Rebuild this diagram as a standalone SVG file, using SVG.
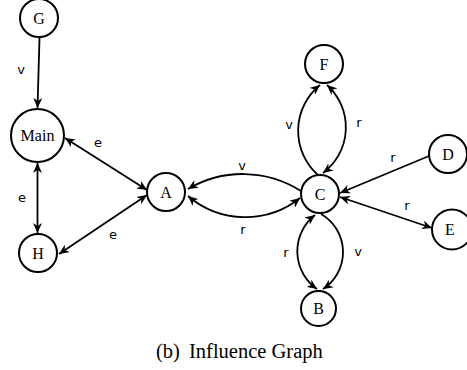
<svg xmlns="http://www.w3.org/2000/svg" width="467" height="370" viewBox="0 0 467 370">
  <style>
    .node circle { fill: #fff; stroke: #000; stroke-width: 2; }
    .node text { font-family: "Liberation Serif", "Times New Roman", serif; font-size: 16px; text-anchor: middle; fill: #000; }
    .edge { fill: none; stroke: #000; stroke-width: 1.8; }
    .lbl { font-family: "DejaVu Sans", sans-serif; font-size: 13px; text-anchor: middle; fill: #000; }
    .caption { font-family: "Liberation Serif", "Times New Roman", serif; font-size: 20.5px; fill: #000; }
  </style>
  <defs>
    <marker id="arrow" viewBox="0 0 10 9" markerUnits="userSpaceOnUse" markerWidth="10" markerHeight="9" refX="10" refY="4.5" orient="auto-start-reverse">
      <path d="M0,0 L10,4.5 L0,9 L3,4.5 z" fill="#000"/>
    </marker>
  </defs>

  <!-- connectors -->
  <g id="connectors">
    <path class="edge" d="M39.5,38 L37.5,108" marker-end="url(#arrow)"/>
    <path class="edge" d="M37.5,163 L37.5,233" marker-start="url(#arrow)" marker-end="url(#arrow)"/>
    <path class="edge" d="M65,138 L147,190" marker-start="url(#arrow)" marker-end="url(#arrow)"/>
    <path class="edge" d="M59,254 L147,195" marker-start="url(#arrow)" marker-end="url(#arrow)"/>
    <!-- C / A pair -->
    <path class="edge" d="M301,191 A108,108 0 0 0 188,189" marker-end="url(#arrow)"/>
    <path class="edge" d="M188,196 A88,88 0 0 0 300,198" marker-start="url(#arrow)" marker-end="url(#arrow)"/>
    <!-- C / F pair -->
    <path class="edge" d="M318,175 A59,59 0 0 1 320,85" marker-end="url(#arrow)"/>
    <path class="edge" d="M323,173 A57,57 0 0 0 327,85" marker-start="url(#arrow)" marker-end="url(#arrow)"/>
    <!-- D, E -->
    <path class="edge" d="M429,156 L340,193" marker-end="url(#arrow)"/>
    <path class="edge" d="M340,197 L432,228" marker-start="url(#arrow)" marker-end="url(#arrow)"/>
    <!-- C / B pair -->
    <path class="edge" d="M315,215 A46,46 0 0 0 317,289" marker-start="url(#arrow)" marker-end="url(#arrow)"/>
    <path class="edge" d="M321,214 A44,44 0 0 1 323,289" marker-end="url(#arrow)"/>
  </g>

  <g id="edge-labels">
    <text class="lbl" x="21" y="74">v</text>
    <text class="lbl" x="22" y="202">e</text>
    <text class="lbl" x="98" y="147">e</text>
    <text class="lbl" x="113" y="239">e</text>
    <text class="lbl" x="242" y="170">v</text>
    <text class="lbl" x="243" y="234">r</text>
    <text class="lbl" x="289" y="129">v</text>
    <text class="lbl" x="359" y="127">r</text>
    <text class="lbl" x="393" y="162">r</text>
    <text class="lbl" x="407" y="210">r</text>
    <text class="lbl" x="286" y="257">r</text>
    <text class="lbl" x="358" y="256">v</text>
  </g>

  <!-- nodes -->
  <g id="node-G" class="node"><circle cx="39" cy="18" r="19"/><text x="39" y="23.5">G</text></g>
  <g id="node-Main" class="node"><circle cx="37.5" cy="135.5" r="26.5"/><text x="37.5" y="141">Main</text></g>
  <g id="node-H" class="node"><circle cx="38" cy="253" r="19"/><text x="38" y="258.5">H</text></g>
  <g id="node-A" class="node"><circle cx="166" cy="192" r="19"/><text x="166" y="197.5">A</text></g>
  <g id="node-C" class="node"><circle cx="320" cy="194" r="19"/><text x="320" y="199.5">C</text></g>
  <g id="node-F" class="node"><circle cx="324" cy="64" r="19"/><text x="324" y="69.5">F</text></g>
  <g id="node-D" class="node"><circle cx="448" cy="154" r="19"/><text x="448" y="159.5">D</text></g>
  <g id="node-E" class="node"><circle cx="452" cy="229.5" r="20"/><text x="450" y="235">E</text></g>
  <g id="node-B" class="node"><circle cx="318.5" cy="308.5" r="17.5"/><text x="318.5" y="314">B</text></g>

  <text class="caption" y="358"><tspan x="156">(b)</tspan><tspan x="189">Influence Graph</tspan></text>
</svg>
